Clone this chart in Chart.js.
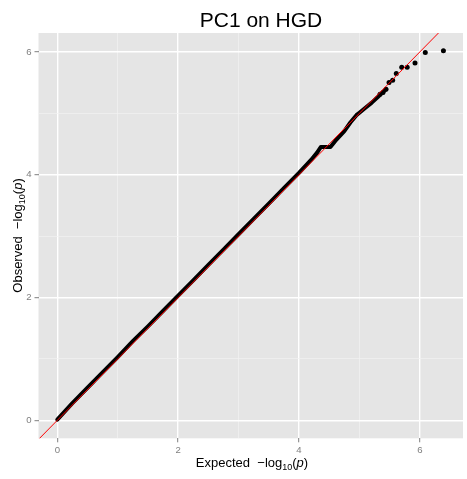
<!DOCTYPE html>
<html>
<head>
<meta charset="utf-8">
<script src="https://cdn.jsdelivr.net/npm/chart.js@4"></script>
<style>
  html, body { margin: 0; padding: 0; background: #ffffff; }
  #wrap { width: 467px; height: 479px; position: relative; }
</style>
</head>
<body>
<div id="wrap"><canvas id="c" width="467" height="479"></canvas></div>
<script>
// ---- Data ----
const titleText = "PC1 on HGD";
const tickValues = [0, 1, 2, 3, 4, 5, 6];
const tickLabels = ["0", "", "2", "", "4", "", "6"];

// dense band of observed vs expected points (expected, observed)
const bandExpected = [0, 0.25, 0.5, 0.75, 1, 1.25, 1.5, 1.75, 2, 2.25, 2.5, 2.75, 3, 3.25, 3.5, 3.75, 4, 4.2, 4.3, 4.36, 4.52, 4.6, 4.75, 4.85, 4.95, 5.0, 5.1, 5.2, 5.3, 5.36, 5.44];
const bandObserved = [0.01, 0.28, 0.53, 0.78, 1.03, 1.29, 1.53, 1.78, 2.03, 2.28, 2.53, 2.78, 3.03, 3.28, 3.53, 3.78, 4.03, 4.24, 4.36, 4.45, 4.45, 4.55, 4.71, 4.85, 4.97, 5.01, 5.09, 5.17, 5.26, 5.32, 5.39];

// sparse upper-tail points
const tailExpected = [5.34, 5.39, 5.44, 5.49, 5.55, 5.61, 5.70, 5.79, 5.92, 6.09, 6.39];
const tailObserved = [5.31, 5.34, 5.39, 5.50, 5.54, 5.65, 5.75, 5.75, 5.82, 5.99, 6.02];

// identity reference line y = x (end points)
const refLine = [-1, 7];

const xRange = [-0.311, 6.714];
const yRange = [-0.293, 6.308];

// ---- Build datasets ----
const bandData = bandExpected.map((x, i) => ({ x: x, y: bandObserved[i] }));
const tailData = tailExpected.map((x, i) => ({ x: x, y: tailObserved[i] }));
const refData = refLine.map(v => ({ x: v, y: v }));

const panelBg = {
  id: 'panelBg',
  beforeDraw(chart) {
    const { ctx, chartArea: a } = chart;
    ctx.save();
    ctx.fillStyle = '#E5E5E5';
    ctx.fillRect(a.left, a.top, a.right - a.left, a.bottom - a.top);
    ctx.restore();
  }
};

function drawMathLabel(ctx, word, size) {
  const base = size + 'px "Liberation Sans", Arial, sans-serif';
  const sub = Math.round(size * 0.72) + 'px "Liberation Sans", Arial, sans-serif';
  const ital = 'italic ' + size + 'px "Liberation Sans", Arial, sans-serif';
  const parts = [
    { t: word + "  \u2212log", f: base, dy: 0 },
    { t: "10", f: sub, dy: size * 0.28 },
    { t: "(", f: base, dy: 0 },
    { t: "p", f: ital, dy: 0 },
    { t: ")", f: base, dy: 0 }
  ];
  let total = 0;
  parts.forEach(p => { ctx.font = p.f; p.w = ctx.measureText(p.t).width; total += p.w; });
  let x = -total / 2;
  ctx.textBaseline = 'alphabetic';
  ctx.textAlign = 'left';
  parts.forEach(p => { ctx.font = p.f; ctx.fillText(p.t, x, p.dy); x += p.w; });
}

const texts = {
  id: 'texts',
  afterDraw(chart) {
    const { ctx } = chart;
    ctx.save();
    ctx.fillStyle = '#000000';
    ctx.font = '21px "Liberation Sans", Arial, sans-serif';
    ctx.textAlign = 'center';
    ctx.textBaseline = 'alphabetic';
    ctx.fillText(titleText, 261, 26.5);

    ctx.save();
    ctx.translate(252, 466.5);
    drawMathLabel(ctx, "Expected", 13);
    ctx.restore();

    ctx.save();
    ctx.translate(21.5, 235.5);
    ctx.rotate(-Math.PI / 2);
    drawMathLabel(ctx, "Observed", 13);
    ctx.restore();
    ctx.restore();
  }
};

function gridColor(c) {
  return (c.tick && c.tick.value % 2 === 0) ? '#FFFFFF' : '#F2F2F2';
}
function gridWidth(c) {
  return (c.tick && c.tick.value % 2 === 0) ? 1.4 : 0.7;
}
function tickCol(c) {
  return (c.tick && c.tick.value % 2 === 0) ? '#7F7F7F' : 'rgba(0,0,0,0)';
}
function setTicks(scale) {
  scale.ticks = tickValues.map(v => ({ value: v }));
}
function labelFor(value) {
  const i = tickValues.indexOf(value);
  return i >= 0 ? tickLabels[i] : '';
}

new Chart(document.getElementById('c'), {
  type: 'scatter',
  data: {
    datasets: [
      {
        type: 'line',
        data: refData,
        borderColor: '#FF0000',
        borderWidth: 1,
        pointRadius: 0,
        fill: false,
        clip: 0,
        order: 0
      },
      {
        type: 'line',
        data: bandData,
        borderColor: '#000000',
        borderWidth: 4,
        borderCapStyle: 'round',
        borderJoinStyle: 'round',
        pointRadius: 0,
        fill: false,
        tension: 0,
        order: 1
      },
      {
        type: 'scatter',
        data: tailData,
        backgroundColor: '#000000',
        borderColor: '#000000',
        borderWidth: 0,
        pointRadius: 2.5,
        order: 2
      }
    ]
  },
  plugins: [panelBg, texts],
  options: {
    responsive: false,
    animation: false,
    devicePixelRatio: 1,
    layout: { padding: { top: 33, right: 3.5, left: 0, bottom: 0 } },
    plugins: {
      legend: { display: false },
      tooltip: { enabled: false },
      title: { display: false }
    },
    scales: {
      x: {
        type: 'linear',
        min: xRange[0],
        max: xRange[1],
        afterBuildTicks: setTicks,
        afterFit(scale) { scale.height = 40.7; },
        border: { display: false },
        grid: {
          color: gridColor,
          lineWidth: gridWidth,
          tickColor: tickCol,
          tickLength: 4,
          tickWidth: 1,
          drawTicks: true
        },
        ticks: {
          autoSkip: false,
          maxRotation: 0,
          padding: 2,
          color: '#7F7F7F',
          font: { family: '"Liberation Sans", Arial, sans-serif', size: 9.6 },
          callback: labelFor
        }
      },
      y: {
        type: 'linear',
        min: yRange[0],
        max: yRange[1],
        afterBuildTicks: setTicks,
        afterFit(scale) { scale.width = 38.5; },
        border: { display: false },
        grid: {
          color: gridColor,
          lineWidth: gridWidth,
          tickColor: tickCol,
          tickLength: 4,
          tickWidth: 1,
          drawTicks: true
        },
        ticks: {
          autoSkip: false,
          padding: 3,
          color: '#7F7F7F',
          font: { family: '"Liberation Sans", Arial, sans-serif', size: 9.6 },
          callback: labelFor
        }
      }
    }
  }
});
</script>
</body>
</html>
